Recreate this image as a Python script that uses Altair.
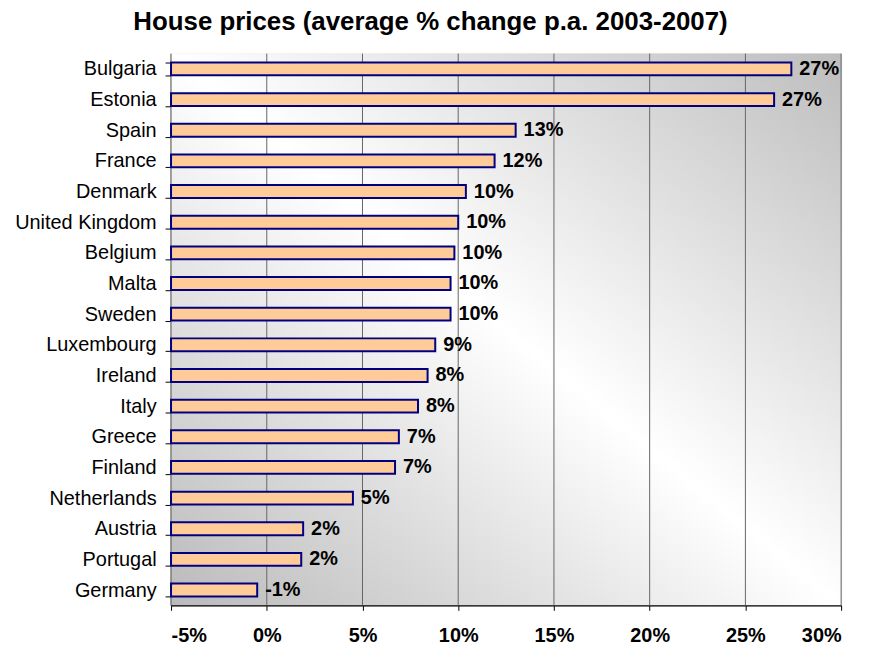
import altair as alt
import pandas as pd

countries = ["Bulgaria", "Estonia", "Spain", "France", "Denmark", "United Kingdom",
             "Belgium", "Malta", "Sweden", "Luxembourg", "Ireland", "Italy", "Greece",
             "Finland", "Netherlands", "Austria", "Portugal", "Germany"]
values = [27.4, 26.5, 13.0, 11.9, 10.4, 10.0, 9.8, 9.6, 9.6, 8.8, 8.4, 7.9, 6.9,
          6.7, 4.5, 1.9, 1.8, -0.5]
labels = ["27%", "27%", "13%", "12%", "10%", "10%", "10%", "10%", "10%", "9%", "8%",
          "8%", "7%", "7%", "5%", "2%", "2%", "-1%"]
x_ticks = [-5, 0, 5, 10, 15, 20, 25, 30]

df = pd.DataFrame({"country": countries, "value": values, "label": labels})
grid_df = pd.DataFrame({"tick": x_ticks})
one = pd.DataFrame({"a": [0]})

W, H = 674, 555
FONT = "Liberation Sans"

xscale = alt.Scale(domain=[-5, 30], nice=False, zero=False)
yscale = alt.Scale(domain=countries, paddingInner=0.58, paddingOuter=0.29)

x_axis = alt.Axis(values=x_ticks, labelExpr="datum.value + '%'", grid=False,
                  labelFont=FONT, labelFontSize=20, labelFontWeight="bold",
                  labelColor="black", labelPadding=15, tickSize=5,
                  tickColor="black", domainColor="black", domainWidth=1.5)

bg = alt.Chart(one).mark_rect(
    fill=alt.Gradient(
        gradient="linear",
        stops=[alt.GradientStop(color="#bdbdbd", offset=0),
               alt.GradientStop(color="#ffffff", offset=0.5),
               alt.GradientStop(color="#bababa", offset=1)],
        x1=1, y1=0, x2=0, y2=1),
).encode(x=alt.value(0), x2=alt.value(W), y=alt.value(0), y2=alt.value(H))

grid = alt.Chart(grid_df).mark_rule(color="#666666", strokeWidth=1).encode(
    x=alt.X("tick:Q", scale=xscale, axis=x_axis, title=None)
)

bars = alt.Chart(df).mark_bar(fill="#FFCC99", stroke="#000080", strokeWidth=2).encode(
    x=alt.X("value:Q", scale=xscale, title=None, axis=x_axis),
    x2=alt.datum(-5),
    y=alt.Y("country:N", sort=countries, scale=yscale, title=None,
            axis=alt.Axis(labelFont=FONT, labelFontSize=20, labelColor="black",
                          labelPadding=9, tickSize=6, tickColor="black",
                          tickBand="extent", domainColor="black", domainWidth=1.5)),
)

text = alt.Chart(df).mark_text(align="left", baseline="middle", dx=8, font=FONT,
                               fontSize=20, fontWeight="bold", color="black").encode(
    x=alt.X("value:Q", scale=xscale),
    y=alt.Y("country:N", sort=countries, scale=yscale),
    text="label:N",
)

chart = alt.layer(bg, grid, bars, text).properties(
    width=W, height=H,
    title=alt.TitleParams("House prices (average % change p.a. 2003-2007)",
                          font=FONT, fontSize=26, fontWeight="bold", color="black",
                          anchor="middle", dx=-76, offset=9),
    autosize=alt.AutoSizeParams(type="none"),
    padding={"left": 164, "top": 44, "right": 20, "bottom": 38},
).configure_view(stroke="#808080", strokeWidth=1).configure(background="white")

chart.save("out.html", embed_options={"renderer": "svg", "actions": False})
